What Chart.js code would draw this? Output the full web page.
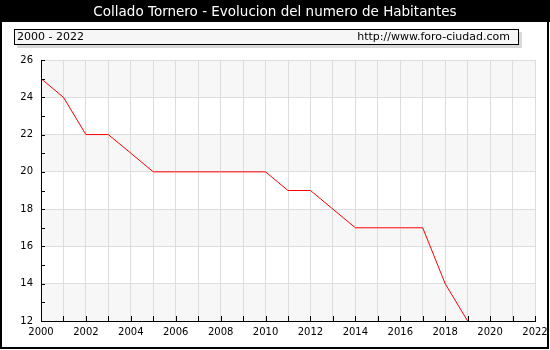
<!DOCTYPE html>
<html>
<head>
<meta charset="utf-8">
<script src="https://cdn.jsdelivr.net/npm/chart.js@4/dist/chart.umd.min.js"></script>
<style>
  html, body { margin: 0; padding: 0; background: #fff; }
  canvas { display: block; }
</style>
</head>
<body>
<canvas id="c" width="550" height="350"></canvas>
<script>
// Population of Collado Tornero, one value per year
const years = [2000, 2001, 2002, 2003, 2004, 2005, 2006, 2007, 2008, 2009,
               2010, 2011, 2012, 2013, 2014, 2015, 2016, 2017, 2018, 2019];
const habitantes = [25, 24, 22, 22, 21, 20, 20, 20, 20, 20,
                    20, 19, 19, 18, 17, 17, 17, 17, 14, 12];

const titleText = 'Collado Tornero - Evolucion del numero de Habitantes';
const rangeText = '2000 - 2022';
const siteText = 'http://www.foro-ciudad.com';

const xMin = 2000, xMax = 2022;
const yMin = 12, yMax = 26;

const FONT = '"DejaVu Sans", Verdana, sans-serif';

const decor = {
  id: 'decor',
  beforeDraw(chart) {
    const ctx = chart.ctx;
    const { left, right } = chart.chartArea;
    const y = chart.scales.y;
    ctx.save();
    ctx.fillStyle = '#fff';
    ctx.fillRect(0, 0, chart.width, chart.height);

    // title bar
    ctx.fillStyle = '#000';
    ctx.fillRect(0, 0, chart.width, 22);
    ctx.fillStyle = '#fff';
    ctx.font = '13.5px ' + FONT;
    ctx.textAlign = 'center';
    ctx.textBaseline = 'middle';
    ctx.fillText(titleText, 275, 12);

    // info box with shadow
    ctx.fillStyle = '#d8d8d8';
    ctx.fillRect(17, 32, 505, 16);
    ctx.fillStyle = '#f6f6f6';
    ctx.fillRect(14, 29, 504, 16);
    ctx.strokeStyle = '#000';
    ctx.lineWidth = 1;
    ctx.strokeRect(14.5, 29.5, 504, 15);
    ctx.fillStyle = '#000';
    ctx.font = '11px ' + FONT;
    ctx.textAlign = 'left';
    ctx.fillText(rangeText, 17, 37.5);
    ctx.textAlign = 'right';
    ctx.fillText(siteText, 510, 37.5);

    // alternating horizontal bands
    ctx.fillStyle = '#f7f7f7';
    for (let v = yMin; v < yMax; v += 4) {
      const y1 = y.getPixelForValue(v + 2);
      const y0 = y.getPixelForValue(v);
      ctx.fillRect(left, y1, right - left, y0 - y1);
    }

    // outer frame
    ctx.strokeStyle = '#000';
    ctx.lineWidth = 2;
    ctx.strokeRect(1, 1, 547, 347);
    ctx.restore();
  },
  afterDraw(chart) {
    // inner tick marks on both axes
    const ctx = chart.ctx;
    const { left, bottom } = chart.chartArea;
    const x = chart.scales.x, y = chart.scales.y;
    ctx.save();
    ctx.strokeStyle = '#000';
    ctx.lineWidth = 1;
    ctx.beginPath();
    for (let v = xMin; v <= xMax; v++) {
      const px = Math.round(x.getPixelForValue(v)) + 0.5;
      ctx.moveTo(px, bottom);
      ctx.lineTo(px, bottom - 5);
    }
    for (let v = yMin; v <= yMax; v++) {
      const py = Math.round(y.getPixelForValue(v)) + 0.5;
      ctx.moveTo(left, py);
      ctx.lineTo(left + 4, py);
    }
    ctx.stroke();
    ctx.restore();
  }
};

new Chart(document.getElementById('c'), {
  type: 'line',
  data: {
    datasets: [{
      data: years.map((yr, i) => ({ x: yr, y: habitantes[i] })),
      borderColor: '#ff0000',
      borderWidth: 1,
      pointRadius: 0,
      tension: 0,
      fill: false
    }]
  },
  options: {
    responsive: false,
    animation: false,
    devicePixelRatio: 1,
    layout: { padding: { left: 0, top: 60, right: 15, bottom: 0 } },
    plugins: { legend: { display: false }, tooltip: { enabled: false }, title: { display: false } },
    scales: {
      x: {
        type: 'linear',
        min: xMin, max: xMax,
        afterFit(s) { s.height = 29; s.paddingLeft = 0; s.paddingRight = 0; },
        ticks: {
          stepSize: 1,
          autoSkip: false,
          maxRotation: 0,
          color: '#000',
          font: { family: FONT, size: 10 },
          padding: 5,
          callback: v => (v % 2 === 0 ? String(v) : '')
        },
        grid: { color: '#dddddd', drawTicks: false },
        border: { color: '#000', width: 1 }
      },
      y: {
        min: yMin, max: yMax,
        afterFit(s) { s.width = 41; s.paddingTop = 0; s.paddingBottom = 0; },
        ticks: {
          stepSize: 1,
          autoSkip: false,
          color: '#000',
          font: { family: FONT, size: 10 },
          padding: 8,
          callback: v => (v % 2 === 0 ? String(v) : '')
        },
        grid: {
          color: ctx => (ctx.tick && ctx.tick.value % 2 === 0 ? '#dddddd' : 'rgba(0,0,0,0)'),
          drawTicks: false
        },
        border: { color: '#000', width: 1 }
      }
    }
  },
  plugins: [decor]
});
</script>
</body>
</html>
